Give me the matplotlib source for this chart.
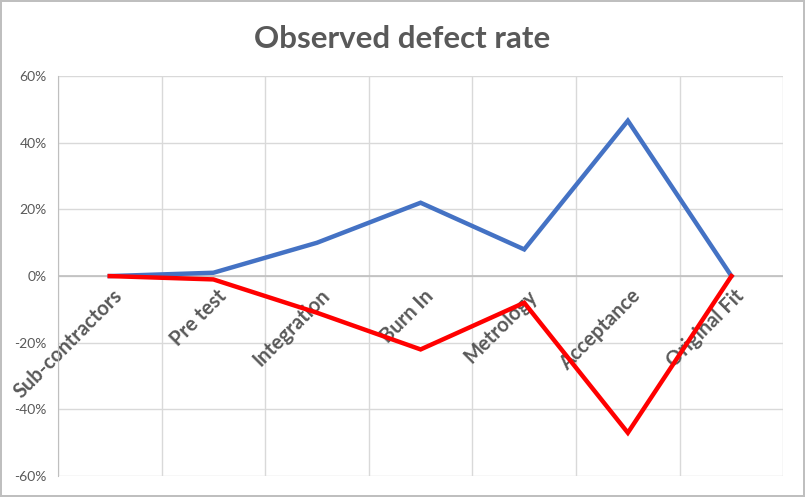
import matplotlib.pyplot as plt
from matplotlib.ticker import FuncFormatter

# Dados
etapas = ["Sub-contractors", "Pre test", "Integration", "Burn In",
          "Metrology", "Acceptance", "Original Fit"]
taxa_azul = [0.0, 0.01, 0.10, 0.22, 0.08, 0.466, 0.0]
taxa_vermelha = [0.0, -0.01, -0.11, -0.22, -0.08, -0.47, 0.0]
ticks_y = [-0.6, -0.4, -0.2, 0.0, 0.2, 0.4, 0.6]

plt.rcParams['font.family'] = ['Lato', 'DejaVu Sans']
cinza = '#595959'

fig = plt.figure(figsize=(8.05, 4.97), dpi=100)
fig.patch.set_edgecolor('#bfbfbf')
fig.patch.set_linewidth(1.5)
ax = fig.add_axes([0.072, 0.042, 0.901, 0.805])

x = list(range(len(etapas)))

# Grade horizontal e vertical (entre categorias)
for v in ticks_y:
    ax.axhline(v, color='#d9d9d9', lw=1, zorder=0)
for i in range(len(etapas) + 1):
    ax.axvline(i - 0.5, color='#d9d9d9', lw=1, zorder=0)
ax.axhline(0, color='#bfbfbf', lw=1.2, zorder=1)

ax.plot(x, taxa_azul, color='#4472C4', lw=3.2, solid_joinstyle='miter', zorder=3)
ax.plot(x, taxa_vermelha, color='#FF0000', lw=3.2, solid_joinstyle='miter', zorder=4)

ax.set_xlim(-0.5, len(etapas) - 0.5)
ax.set_ylim(-0.6, 0.6)
ax.set_yticks(ticks_y)
ax.yaxis.set_major_formatter(FuncFormatter(lambda v, p: f"{v*100:.0f}%"))
ax.tick_params(axis='y', length=0, labelsize=10, colors=cinza, pad=8)
ax.set_xticks([])

for lado in ['top', 'right', 'bottom']:
    ax.spines[lado].set_visible(False)
ax.spines['left'].set_color('#bfbfbf')

# Rotulos das categorias, rodados 45 graus, terminando logo abaixo do zero
for i, nome in enumerate(etapas):
    ax.annotate(nome, xy=(i, 0), xytext=(2, -7), textcoords='offset points',
                rotation=45, rotation_mode='anchor', ha='right', va='top',
                fontsize=14.5, fontweight='bold', color=cinza, zorder=2)

fig.text(0.5, 0.922, "Observed defect rate", ha='center', va='center',
         fontsize=22.5, fontweight='bold', color=cinza)

fig.savefig("out.png", dpi=100)
